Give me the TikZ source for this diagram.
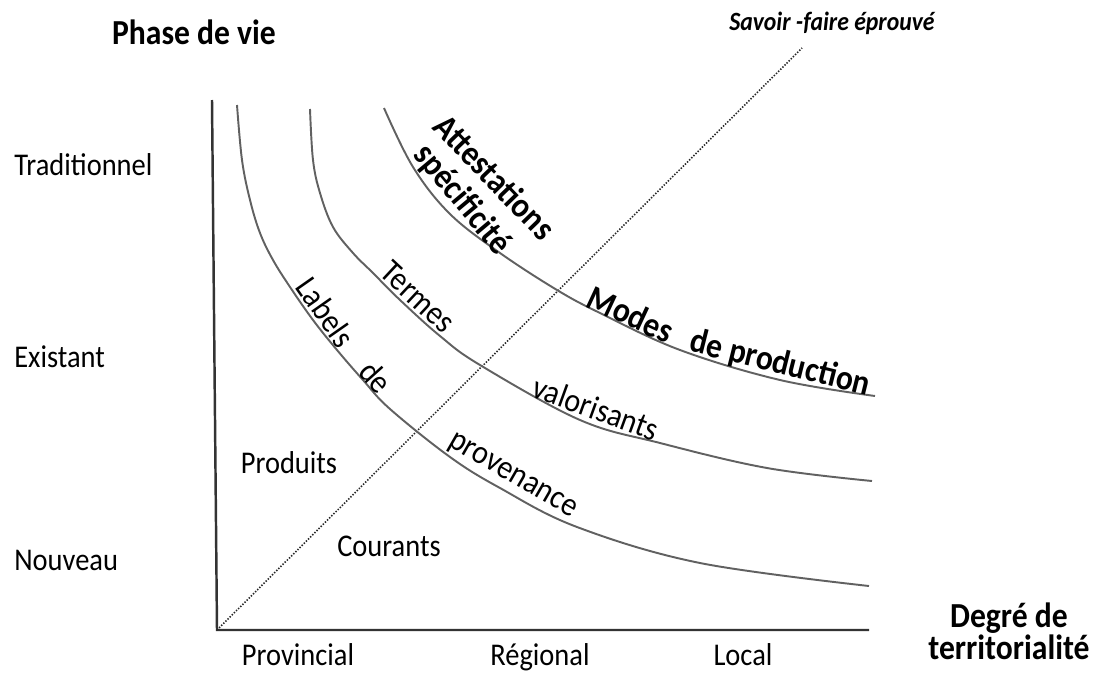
\documentclass[tikz,border=0pt]{standalone}
\usepackage{fontspec}
\setmainfont{Carlito}[FakeStretch=0.9]

\begin{document}
\begin{tikzpicture}[x=0.02cm, y=-0.02cm,
	axis/.style={line width=1.4pt, draw=black!80},
	curve/.style={line width=1.1pt, draw=black!62},
	diag/.style={line width=0.9pt, draw=black!85, dash pattern=on 0.8pt off 0.9pt},
	lab/.style={font=\fontsize{18}{20}\selectfont, inner sep=0pt},
	curvelab/.style={font=\fontsize{19}{21}\selectfont, inner sep=0pt},
	boldlab/.style={font=\bfseries\fontsize{20}{22}\selectfont, inner sep=0pt},
	title/.style={font=\bfseries\fontsize{20}{18}\selectfont, align=center, inner sep=0pt}]
\useasboundingbox (0,0) rectangle (1099,673);

\coordinate (top) at (212,100);
\coordinate (o) at (217,630);
\coordinate (right) at (869,630);
\coordinate (tip) at (802,48);

\draw[axis] (top) -- (o) -- (right);
\draw[diag] (o) -- (tip);

\draw[curve] plot[smooth, tension=0.6] coordinates {(237,105) (242,160) (250,200) (260,233) (273,260) (290,287) (313,320) (337,350) (363,380) (390,409) (450,457) (500,488) (577,527) (700,563) (869,586)};
\draw[curve] plot[smooth, tension=0.6] coordinates {(310,109) (313,160) (320,193) (333,227) (353,253) (373,273) (400,300) (440,336) (480,365) (580,420) (660,443) (767,468) (872,481)};
\draw[curve] plot[smooth, tension=0.6] coordinates {(384,108) (413,167) (450,214) (500,253) (557,290) (600,313) (680,350) (780,380) (875,396)};

\node[title] (phase) at (194,32) {Phase de vie};
\node[title] (degre) at (1009,631) {Degré de\\territorialité};
\node[font=\bfseries\itshape\fontsize{15}{17}\selectfont, inner sep=0pt] (savoir) at (832,23) {Savoir -faire éprouvé};

\foreach \Name/\Ypos [count=\i] in {Traditionnel/165, Existant/357, Nouveau/560}{
	\node[lab, anchor=west] (phase\i) at (14,\Ypos) {\Name};
}
\foreach \Name/\Xpos [count=\i] in {Provincial/298, Régional/540, Local/743}{
	\node[lab, anchor=base] (terr\i) at (\Xpos,665) {\Name};
}

\node[lab] (produits) at (289,463) {Produits};
\node[lab] (courants) at (389,546) {Courants};

\node[boldlab, rotate=-46] (attest) at (495,177) {Attestations};
\node[boldlab, rotate=-50] (specif) at (462,200) {spécificité};
\node[boldlab, rotate=-25] (modes) at (631,314) {Modes};
\node[boldlab, rotate=-14] (prod) at (780,364) {de production};

\node[curvelab, rotate=-43] (termes) at (418,297) {Termes};
\node[curvelab, rotate=-20] (valor) at (596,408) {valorisants};
\node[curvelab, rotate=-55] (labels) at (326,312) {Labels};
\node[curvelab, rotate=-48] (de) at (376,377) {de};
\node[curvelab, rotate=-30] (prov) at (512,477) {provenance};
\end{tikzpicture}
\end{document}
